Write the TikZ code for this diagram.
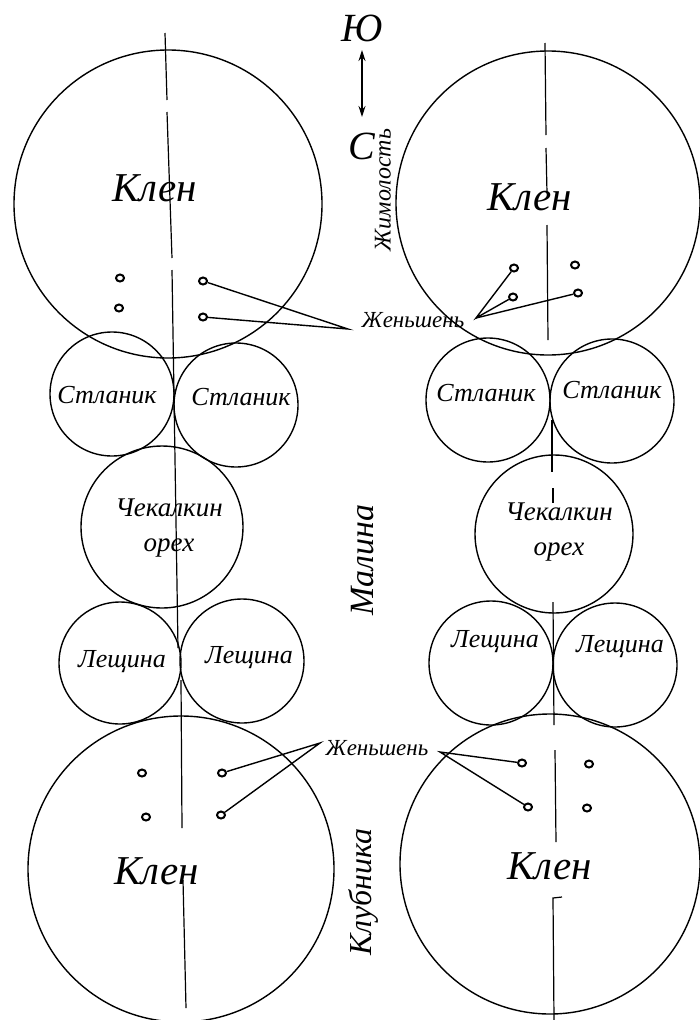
\documentclass[tikz,border=0pt]{standalone}
\usepackage{fontspec}
\setmainfont{Liberation Serif}
\usetikzlibrary{arrows.meta,shapes.geometric}
\begin{document}
\begin{tikzpicture}[x=1pt,y=-1pt,
  ink/.style={line width=1.4pt,black},
  tree/.style={draw,ink,circle,inner sep=0pt},
  dotnode/.style={draw,line width=2pt,ellipse,minimum width=8pt,minimum height=7pt,inner sep=0pt},
  lbl/.style={font=\fontsize{#1}{#1}\selectfont\itshape,inner sep=0pt},
  axis/.style={line width=1.2pt}
]
\useasboundingbox (0,0) rectangle (700,1020);
% ---------- left column ----------
\node[tree,minimum size=308pt] (kl1) at (168,204) {};
\node[tree,minimum size=124pt] (sl1) at (112,394) {};
\node[tree,minimum size=124pt] (sl2) at (236,405) {};
\node[tree,minimum size=162pt] (cl) at (162,527) {};
\node[tree,minimum size=122pt] (ll1) at (120,663) {};
\node[tree,minimum size=124pt] (ll2) at (242,661) {};
\node[tree,minimum size=306pt] (kl2) at (181,869) {};
% ---------- right column ----------
\node[tree,minimum size=304pt] (kr1) at (548,203) {};
\node[tree,minimum size=124pt] (sr1) at (488,400) {};
\node[tree,minimum size=124pt] (sr2) at (612,401) {};
\node[tree,minimum size=158pt] (cr) at (554,534) {};
\node[tree,minimum size=124pt] (lr1) at (491,663) {};
\node[tree,minimum size=124pt] (lr2) at (615,665) {};
\node[tree,minimum size=300pt] (kr2) at (550,864) {};
% ---------- axis lines ----------
\draw[axis] (165,33) -- (167,100);
\draw[axis] (167,112) -- (172,258);
\draw[axis] (172,270) -- (178,648);
\draw[axis] (181,680) -- (182,828);
\draw[axis] (183,880) -- (186,1008);
\draw[axis] (545,43) -- (546,135);
\draw[axis] (546,148) -- (547,193);
\draw[axis] (547,225) -- (548,340);
\draw[axis] (552,420) -- (552,472);
\draw[axis] (553,488) -- (553,503);
\draw[axis] (553,602) -- (554,725);
\draw[axis] (555,750) -- (556,842);
\draw[axis] (562,897) -- (553,898) -- (554,1020);
% ---------- labels ----------
\node[lbl=41] (tk1) at (155,188) {Клен};
\node[lbl=41] (tk2) at (530,197) {Клен};
\node[lbl=41] (tk3) at (157,871) {Клен};
\node[lbl=41] (tk4) at (550,866) {Клен};
\node[lbl=26] (ts1) at (107,395) {Стланик};
\node[lbl=26] (ts2) at (241,397) {Стланик};
\node[lbl=26] (ts3) at (486,393) {Стланик};
\node[lbl=26] (ts4) at (612,390) {Стланик};
\node[lbl=27,align=center] (tc1) at (169,528) {Чекалкин\\[8pt]орех};
\node[lbl=27,align=center] (tc2) at (559,532) {Чекалкин\\[8pt]орех};
\node[lbl=26] (tl1) at (122,662) {Лещина};
\node[lbl=26] (tl2) at (249,658) {Лещина};
\node[lbl=26] (tl3) at (495,642) {Лещина};
\node[lbl=26] (tl4) at (620,647) {Лещина};
\node[lbl=23] (tj1) at (413,320) {Женьшень};
\node[lbl=23] (tj2) at (377,748) {Женьшень};
\node[lbl=24,rotate=90] (tzh) at (383,190) {Жимолость};
\node[lbl=34,rotate=90] (tm) at (363,560) {Малина};
\node[lbl=32,rotate=90] (tkl) at (363,892) {Клубника};
\node[lbl=40] (tS) at (362,28) {Ю};
\node[lbl=40] (tN) at (362,146) {С};
\coordinate (a1) at (362,50);
\coordinate (a2) at (362,117);
\draw[line width=1.3pt,{Stealth[length=11pt,width=7pt]}-{Stealth[length=11pt,width=7pt]}] (a1) -- (a2);
% ---------- ginseng dots ----------
\node[dotnode] (d1) at (120,278) {};
\node[dotnode] (d2) at (119,308) {};
\node[dotnode] (d3) at (203,281) {};
\node[dotnode] (d4) at (203,317) {};
\node[dotnode] (d5) at (514,268) {};
\node[dotnode] (d6) at (513,297) {};
\node[dotnode] (d7) at (575,265) {};
\node[dotnode] (d8) at (578,293) {};
\node[dotnode] (d9) at (142,773) {};
\node[dotnode] (d10) at (146,817) {};
\node[dotnode] (d11) at (222,773) {};
\node[dotnode] (d12) at (221,815) {};
\node[dotnode] (d13) at (522,763) {};
\node[dotnode] (d14) at (528,807) {};
\node[dotnode] (d15) at (589,764) {};
\node[dotnode] (d16) at (587,808) {};
% ---------- connectors ----------
\coordinate (jA) at (348,329);
\coordinate (jB) at (476,318);
\coordinate (jC) at (320,743);
\coordinate (jD) at (440,752);
\draw[ink] (d3) -- (jA) -- (d4);
\draw[ink] (d5) -- (jB) -- (d6);
\draw[ink] (jB) -- (d8);
\draw[ink] (d11) -- (jC) -- (d12);
\draw[ink] (d13) -- (jD) -- (d14);
\end{tikzpicture}
\end{document}
